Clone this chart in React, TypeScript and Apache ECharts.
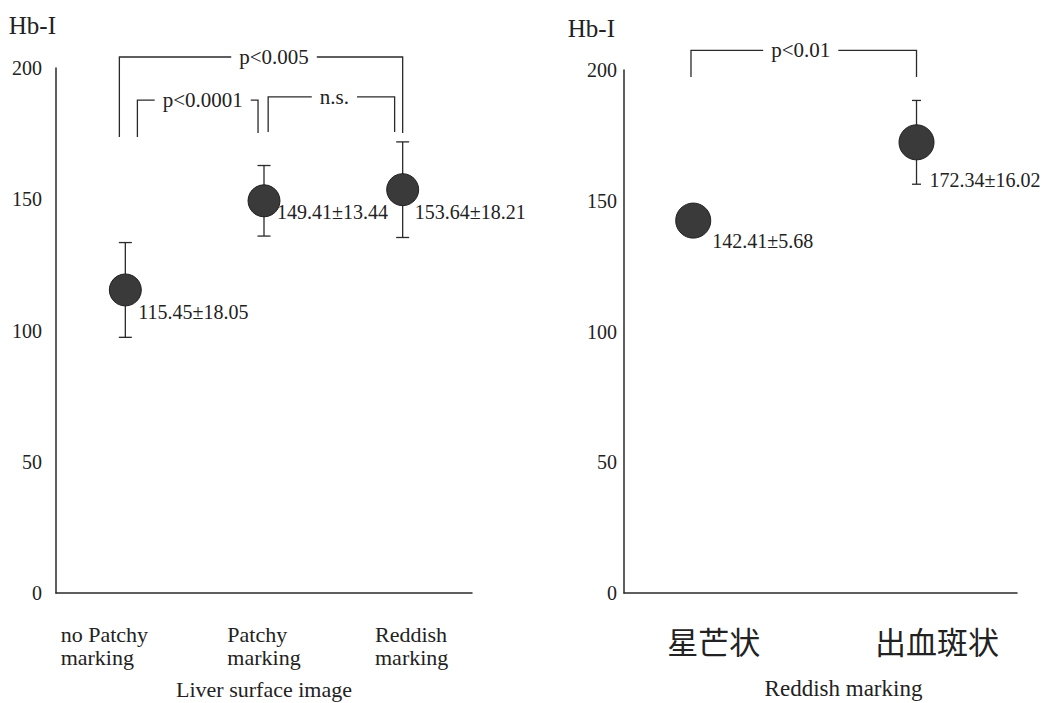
import { useEffect, useRef } from 'react';
import * as echarts from 'echarts';

// ---------------- data ----------------
const LEFT_CATEGORIES = ['no Patchy\nmarking', 'Patchy\nmarking', 'Reddish\nmarking'];
const LEFT_MEANS = [115.45, 149.41, 153.64];
const LEFT_SDS = [18.05, 13.44, 18.21];

const RIGHT_CATEGORIES = ['星芒状', '出血斑状'];
const RIGHT_MEANS = [142.41, 172.34];
const RIGHT_SDS = [5.68, 16.02];

const Y_MIN = 0;
const Y_MAX = 200;
const Y_STEP = 50;
const Y_NAME = 'Hb-I';
const LEFT_X_NAME = 'Liver surface image';
const RIGHT_X_NAME = 'Reddish marking';

// significance brackets: [fromIndex, toIndex, topValue, fromLegEnd, toLegEnd]
const LEFT_BRACKETS = [
  [0, 2, 204.2, 173.7, 175.2],
  [0, 1, 187.8, 173.7, 175.2],
  [1, 2, 189.0, 175.6, 175.6],
];
const LEFT_BRACKET_TEXT = ['p<0.005', 'p<0.0001', 'n.s.'];
const RIGHT_BRACKETS = [[0, 1, 207.5, 197.3, 197.3]];
const RIGHT_BRACKET_TEXT = ['p<0.01'];

// ---------------- styles ----------------
const SERIF = '"Liberation Serif", "Times New Roman", serif';
const CJK = '"Noto Sans CJK JP", "Noto Sans CJK SC", sans-serif';
const INK = '#222';
const LINE = '#2a2a2a';
const DOT = '#3a3a3a';

const LEFT_LEG_SHIFT = [[-0.043, 0], [0.087, -0.043], [0.03, -0.058]];
const LEFT_TEXT_DX = [13, 5, 3];
const RIGHT_LEG_SHIFT = [[-0.01, 0]];
const RIGHT_TEXT_DX = [-3];
const LEFT_LABEL_OFFSET = [[13, 22], [13, 11], [12, 22]];
const RIGHT_LABEL_OFFSET = [[19, 20], [13, 38]];

function bracketRenderer(texts: string[], legShift: number[][], textDx: number[]) {
  return (params: any, api: any) => {
    const i = params.dataIndex;
    const from = api.value(0);
    const to = api.value(1);
    const top = api.value(2);
    const step = api.size([1, 0])[0];
    const pTopA = api.coord([from, top]);
    const pTopB = api.coord([to, top]);
    const xA = pTopA[0] + legShift[i][0] * step;
    const xB = pTopB[0] + legShift[i][1] * step;
    const yTop = pTopA[1];
    const yA = api.coord([from, api.value(3)])[1];
    const yB = api.coord([to, api.value(4)])[1];
    return {
      type: 'group',
      children: [
        {
          type: 'polyline',
          shape: { points: [[xA, yA], [xA, yTop], [xB, yTop], [xB, yB]] },
          style: { stroke: LINE, lineWidth: 1.3, fill: null },
        },
        {
          type: 'text',
          x: (xA + xB) / 2 + textDx[i],
          y: yTop,
          style: {
            text: texts[i],
            fontFamily: SERIF,
            fontSize: 21,
            fill: INK,
            align: 'center',
            verticalAlign: 'middle',
            backgroundColor: '#fff',
            padding: [2, 8],
          },
        },
      ],
    };
  };
}

function errorRenderer(means: number[], sds: number[], capHalf: number, offsets: number[][]) {
  return (params: any, api: any) => {
    const i = params.dataIndex;
    const x = api.value(0);
    const m = api.value(1);
    const s = api.value(2);
    const c = api.coord([x, m]);
    const hi = api.coord([x, m + s]);
    const lo = api.coord([x, m - s]);
    const st = { stroke: LINE, lineWidth: 1.3 };
    return {
      type: 'group',
      children: [
        { type: 'line', shape: { x1: c[0], y1: hi[1], x2: c[0], y2: lo[1] }, style: st },
        { type: 'line', shape: { x1: c[0] - capHalf, y1: hi[1], x2: c[0] + capHalf, y2: hi[1] }, style: st },
        { type: 'line', shape: { x1: c[0] - capHalf, y1: lo[1], x2: c[0] + capHalf, y2: lo[1] }, style: st },
        {
          type: 'text',
          x: c[0] + offsets[i][0],
          y: c[1] + offsets[i][1],
          style: {
            text: `${means[i].toFixed(2)}±${sds[i].toFixed(2)}`,
            fontFamily: SERIF,
            fontSize: 20,
            fill: INK,
            align: 'left',
            verticalAlign: 'middle',
          },
        },
      ],
    };
  };
}

export default function App() {
  const ref = useRef<HTMLDivElement>(null);

  useEffect(() => {
    if (!ref.current) return;
    const chart = echarts.init(ref.current, null, { renderer: 'svg' });

    const yAxisBase = (gridIndex: number, margin: number, namePad: number[], nameGap: number) => ({
      type: 'value',
      gridIndex,
      min: Y_MIN,
      max: Y_MAX,
      interval: Y_STEP,
      name: Y_NAME,
      nameLocation: 'end',
      nameGap,
      nameTextStyle: {
        fontFamily: SERIF,
        fontSize: 25,
        color: INK,
        align: 'right',
        verticalAlign: 'middle',
        padding: namePad,
      },
      axisLine: { show: true, onZero: false, lineStyle: { color: LINE, width: 1.5 } },
      axisTick: { show: false },
      splitLine: { show: false },
      axisLabel: { fontFamily: SERIF, fontSize: 20, color: INK, margin },
    });

    const leftLabelRich: any = {
      c0: { align: 'left', padding: [0, 42, 0, 0], fontFamily: SERIF, fontSize: 22, color: INK, lineHeight: 23 },
      c1: { align: 'left', padding: [0, 0, 0, 0], fontFamily: SERIF, fontSize: 22, color: INK, lineHeight: 23 },
      c2: { align: 'left', padding: [0, 0, 0, 18], fontFamily: SERIF, fontSize: 22, color: INK, lineHeight: 23 },
    };

    const option: any = {
      animation: false,
      backgroundColor: '#fff',
      grid: [
        { left: 56, top: 68, width: 416, height: 525, containLabel: false, outerBoundsMode: 'none' },
        { left: 624, top: 70, width: 393, height: 523, containLabel: false, outerBoundsMode: 'none' },
      ],
      xAxis: [
        {
          type: 'category',
          gridIndex: 0,
          data: LEFT_CATEGORIES,
          name: LEFT_X_NAME,
          nameLocation: 'middle',
          nameGap: 85,
          nameTextStyle: { fontFamily: SERIF, fontSize: 22, color: INK },
          axisLine: { show: true, onZero: false, lineStyle: { color: LINE, width: 1.5 } },
          axisTick: { show: false },
          splitLine: { show: false },
          axisLabel: {
            margin: 30,
            align: 'center',
            formatter: (v: string, idx: number) =>
              v.split('\n').map((line) => `{c${idx}|${line}}`).join('\n'),
            rich: leftLabelRich,
          },
        },
        {
          type: 'value',
          gridIndex: 1,
          min: -0.31,
          max: 1.45,
          name: RIGHT_X_NAME,
          nameLocation: 'middle',
          nameGap: 84,
          nameTextStyle: { fontFamily: SERIF, fontSize: 23, color: INK, padding: [0, 0, 0, 46] },
          axisLine: { show: true, onZero: false, lineStyle: { color: LINE, width: 1.5 } },
          axisTick: { show: false },
          splitLine: { show: false },
          axisLabel: {
            customValues: RIGHT_CATEGORIES.map((_, i) => i),
            margin: 32,
            fontFamily: CJK,
            fontSize: 31,
            color: INK,
            padding: [0, 0, 0, 41],
            formatter: (v: number) => {
              const r = Math.round(v);
              if (Math.abs(v - r) > 1e-6 || r < 0 || r >= RIGHT_CATEGORIES.length) return '';
              return RIGHT_CATEGORIES[r];
            },
          },
        },
      ],
      yAxis: [yAxisBase(0, 14, [0, 0, 0, 0], 43), yAxisBase(1, 7, [0, 9, 0, 0], 42)],
      series: [
        {
          type: 'custom',
          xAxisIndex: 0,
          yAxisIndex: 0,
          renderItem: bracketRenderer(LEFT_BRACKET_TEXT, LEFT_LEG_SHIFT, LEFT_TEXT_DX),
          encode: { x: 0, y: 2 },
          data: LEFT_BRACKETS,
          z: 2,
        },
        {
          type: 'custom',
          xAxisIndex: 1,
          yAxisIndex: 1,
          renderItem: bracketRenderer(RIGHT_BRACKET_TEXT, RIGHT_LEG_SHIFT, RIGHT_TEXT_DX),
          encode: { x: 0, y: 2 },
          data: RIGHT_BRACKETS,
          z: 2,
        },
        {
          type: 'custom',
          xAxisIndex: 0,
          yAxisIndex: 0,
          renderItem: errorRenderer(LEFT_MEANS, LEFT_SDS, 6.5, LEFT_LABEL_OFFSET),
          encode: { x: 0, y: 1 },
          data: LEFT_MEANS.map((m, i) => [i, m, LEFT_SDS[i]]),
          z: 2,
        },
        {
          type: 'custom',
          xAxisIndex: 1,
          yAxisIndex: 1,
          renderItem: errorRenderer(RIGHT_MEANS, RIGHT_SDS, 4.5, RIGHT_LABEL_OFFSET),
          encode: { x: 0, y: 1 },
          data: RIGHT_MEANS.map((m, i) => [i, m, RIGHT_SDS[i]]),
          z: 2,
        },
        {
          type: 'scatter',
          xAxisIndex: 0,
          yAxisIndex: 0,
          symbolSize: 32,
          itemStyle: { color: DOT, borderColor: '#1f1f1f', borderWidth: 1, opacity: 1 },
          data: LEFT_MEANS.map((m, i) => [i, m]),
          z: 5,
        },
        {
          type: 'scatter',
          xAxisIndex: 1,
          yAxisIndex: 1,
          symbolSize: 35,
          itemStyle: { color: DOT, borderColor: '#1f1f1f', borderWidth: 1, opacity: 1 },
          data: RIGHT_MEANS.map((m, i) => [i, m]),
          z: 5,
        },
      ],
    };

    chart.setOption(option);
    return () => chart.dispose();
  }, []);

  return (
    <div
      ref={ref}
      style={{ position: 'absolute', left: 0, top: 0, width: 1052, height: 703, background: '#fff' }}
    />
  );
}
